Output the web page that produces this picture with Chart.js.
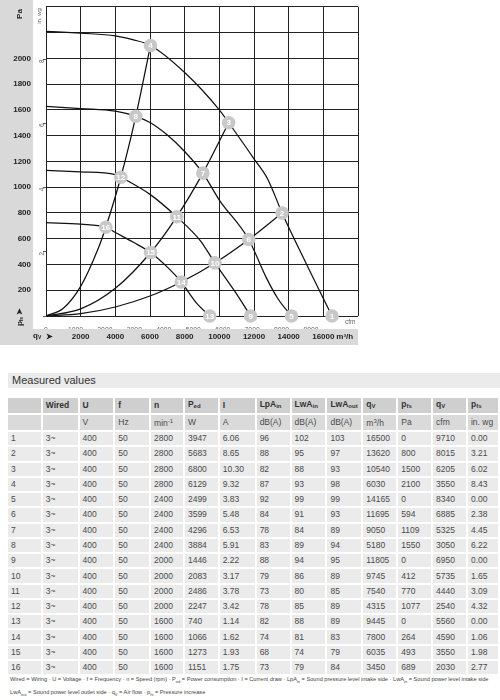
<!DOCTYPE html>
<html>
<head>
<meta charset="utf-8">
<script src="https://cdn.jsdelivr.net/npm/chart.js@4.4.1/dist/chart.umd.min.js"></script>
<style>
  body { margin: 0; background: #fff; font-family: "Liberation Sans", Arial, sans-serif; }
  #wrap { position: relative; width: 500px; height: 700px; overflow: hidden; }
  #fanChart { position: absolute; left: 0; top: 0; }
  #title {
    position: absolute; left: 8px; top: 373px; width: 488px; height: 15px;
    background: #ebebeb; color: #333; font-size: 11px; line-height: 15px; padding-left: 4px;
  }
  #measured {
    position: absolute; left: 6px; top: 396px; table-layout: fixed;
    border-collapse: separate; border-spacing: 2px; font-size: 8.5px; color: #4a4a4a;
  }
  #measured td { height: 13.27px; padding: 0 0 0 3px; background: #ebebeb; white-space: nowrap; line-height: 13px; }
  #measured tr.head td { background: #cfcfcf; font-weight: bold; color: #333; }
  #measured tr.unit td { background: #dadada; }
  #measured sub { font-size: 6px; vertical-align: -1px; }
  #measured sup { font-size: 6px; vertical-align: 3px; }
  #legendText {
    position: absolute; left: 10px; top: 674px; font-size: 5.65px; line-height: 11px; color: #444; white-space: nowrap;
  }
  #legendText sub { font-size: 4px; }
</style>
</head>
<body>
<div id="wrap">
  <canvas id="fanChart" width="500" height="350"></canvas>
  <div id="title">Measured values</div>
  <table id="measured"></table>
  <div id="legendText">Wired = Wiring · U = Voltage · f = Frequency · n = Speed (rpm) · P<sub>ed</sub> = Power consumption · I = Current draw · LpA<sub>in</sub> = Sound pressure level intake side · LwA<sub>in</sub> = Sound power level intake side<br>LwA<sub>out</sub> = Sound power level outlet side · q<sub>V</sub> = Air flow · p<sub>fs</sub> = Pressure increase</div>
</div>
<script>
// operating points 1..16
const pointNo = [1, 2, 3, 4, 5, 6, 7, 8, 9, 10, 11, 12, 13, 14, 15, 16];
const wired = ["3~", "3~", "3~", "3~", "3~", "3~", "3~", "3~", "3~", "3~", "3~", "3~", "3~", "3~", "3~", "3~"];
const voltage = [400, 400, 400, 400, 400, 400, 400, 400, 400, 400, 400, 400, 400, 400, 400, 400];
const freq = [50, 50, 50, 50, 50, 50, 50, 50, 50, 50, 50, 50, 50, 50, 50, 50];
const speed = [2800, 2800, 2800, 2800, 2400, 2400, 2400, 2400, 2000, 2000, 2000, 2000, 1600, 1600, 1600, 1600];
const power = [3947, 5683, 6800, 6129, 2499, 3599, 4296, 3884, 1446, 2083, 2486, 2247, 740, 1066, 1273, 1151];
const current = ["6.06", "8.65", "10.30", "9.32", "3.83", "5.48", "6.53", "5.91", "2.22", "3.17", "3.78", "3.42", "1.14", "1.62", "1.93", "1.75"];
const lpaIn = [96, 88, 82, 87, 92, 84, 78, 83, 88, 79, 73, 78, 82, 74, 68, 73];
const lwaIn = [102, 95, 88, 93, 99, 91, 84, 89, 94, 86, 80, 85, 88, 81, 74, 79];
const lwaOut = [103, 97, 93, 98, 99, 93, 89, 94, 95, 89, 85, 89, 89, 83, 79, 84];
const qvM3h = [16500, 13620, 10540, 6030, 14165, 11695, 9050, 5180, 11805, 9745, 7540, 4315, 9445, 7800, 6035, 3450];
const pfsPa = [0, 800, 1500, 2100, 0, 594, 1109, 1550, 0, 412, 770, 1077, 0, 264, 493, 689];
const qvCfm = [9710, 8015, 6205, 3550, 8340, 6885, 5325, 3050, 6950, 5735, 4440, 2540, 5560, 4590, 3550, 2030];
const pfsInWg = ["0.00", "3.21", "6.02", "8.43", "0.00", "2.38", "4.45", "6.22", "0.00", "1.65", "3.09", "4.32", "0.00", "1.06", "1.98", "2.77"];

// fan curves, [m3/h, Pa]
const curve2800 = [[0, 2210], [2000, 2195], [4000, 2175], [5000, 2145], [6030, 2100], [8000, 1890], [10000, 1600], [10540, 1500], [12000, 1220], [12800, 1060], [13620, 800], [15000, 410], [16500, 0]];
const curve2400 = [[0, 1628], [2000, 1610], [4000, 1590], [5180, 1550], [6000, 1502], [7000, 1405], [8000, 1277], [9050, 1109], [10000, 900], [11695, 594], [12700, 300], [13400, 130], [14165, 0]];
const curve2000 = [[0, 1131], [2000, 1118], [4000, 1098], [4315, 1077], [6000, 944], [7540, 770], [8900, 585], [9745, 412], [11000, 170], [11805, 0]];
const curve1600 = [[0, 725], [2000, 713], [3450, 689], [4000, 648], [5040, 572], [6035, 493], [7000, 379], [7800, 264], [8700, 98], [9445, 0]];
// system lines through the operating points
const sysLine1 = [[0, 0], [1000, 60], [2000, 230], [3000, 520], [3450, 689], [4315, 1077], [5180, 1550], [6030, 2100]];
const sysLine2 = [[0, 0], [2000, 55], [4000, 215], [6035, 493], [7540, 770], [9050, 1109], [10540, 1500]];
const sysLine3 = [[0, 0], [2000, 18], [4000, 70], [6000, 155], [7800, 264], [9745, 412], [11695, 594], [13620, 800]];

// axis ticks
const m3hTicks = [2000, 4000, 6000, 8000, 10000, 12000, 14000, 16000];
const paTicks = [200, 400, 600, 800, 1000, 1200, 1400, 1600, 1800, 2000];
const cfmTicks = [0, 1000, 2000, 3000, 4000, 5000, 6000, 7000, 8000, 9000];
const inWgTicks = [2, 4, 6, 8];

const M3H_PER_CFM = 1.699;
const PA_PER_INWG = 249.09;
const Q_MAX = 18000;
const P_MAX = 2400;
const FONT = '"Liberation Sans", Arial, sans-serif';

const toXY = arr => arr.map(([x, y]) => ({ x, y }));

const lineSet = data => ({
  data: toXY(data),
  showLine: true,
  borderColor: "#111",
  borderWidth: 1.25,
  pointRadius: 0,
  cubicInterpolationMode: "monotone",
});

// keep the plot box fixed: no extra label padding around the chart area
const noPad = s => {
  s.paddingTop = 0;
  s.paddingBottom = 0;
  s.paddingLeft = 0;
  s.paddingRight = 0;
};

const decor = {
  id: "decor",
  beforeDraw(chart) {
    const ctx = chart.ctx;
    ctx.save();
    ctx.fillStyle = "#d9d9d9";
    ctx.fillRect(0, 0, 33, 345);
    ctx.fillRect(0, 329, 358, 16);
    ctx.restore();
  },
  afterDatasetsDraw(chart) {
    const ctx = chart.ctx;
    const meta = chart.getDatasetMeta(0);
    ctx.save();
    ctx.fillStyle = "#fff";
    ctx.font = "bold 8px " + FONT;
    ctx.textAlign = "center";
    ctx.textBaseline = "middle";
    meta.data.forEach((el, i) => {
      ctx.fillText(String(pointNo[i]), el.x, el.y + 0.5);
    });
    ctx.restore();
  },
  afterDraw(chart) {
    const ctx = chart.ctx;
    ctx.save();
    ctx.fillStyle = "#222";
    // Pa
    ctx.save();
    ctx.translate(20, 14);
    ctx.rotate(-Math.PI / 2);
    ctx.font = "bold 8px " + FONT;
    ctx.textAlign = "center";
    ctx.textBaseline = "middle";
    ctx.fillText("Pa", 0, 0);
    ctx.restore();
    // in. wg
    ctx.save();
    ctx.translate(39, 16);
    ctx.rotate(-Math.PI / 2);
    ctx.font = "6px " + FONT;
    ctx.fillStyle = "#666";
    ctx.textAlign = "center";
    ctx.textBaseline = "middle";
    ctx.fillText("in. wg", 0, 0);
    ctx.restore();
    // pfs arrow
    ctx.save();
    ctx.translate(20, 317);
    ctx.rotate(-Math.PI / 2);
    ctx.textBaseline = "middle";
    ctx.font = "bold 8px " + FONT;
    ctx.fillText("p", -9, 0);
    ctx.font = "bold 5px " + FONT;
    ctx.fillText("fs", -4.5, 2);
    ctx.font = "bold 8px " + FONT;
    ctx.fillText("\u27A4", 2, 0);
    ctx.restore();
    // qv arrow
    ctx.textBaseline = "middle";
    ctx.font = "bold 8px " + FONT;
    ctx.fillText("q", 33, 336);
    ctx.font = "bold 5px " + FONT;
    ctx.fillText("V", 38, 338);
    ctx.font = "bold 8px " + FONT;
    ctx.fillText("\u27A4", 46, 337);
    // units
    const xs = chart.scales.x;
    ctx.fillText("m\u00B3/h", xs.getPixelForValue(16000) + 13, 337);
    ctx.font = "6.5px " + FONT;
    ctx.fillStyle = "#666";
    ctx.fillText("cfm", 345, 322);
    ctx.restore();
  },
};

new Chart(document.getElementById("fanChart"), {
  type: "scatter",
  data: {
    datasets: [
      {
        data: qvM3h.map((q, i) => ({ x: q, y: pfsPa[i] })),
        pointRadius: 6.8,
        pointHoverRadius: 6.8,
        backgroundColor: "#c8c8c8",
        borderWidth: 0,
        clip: false,
      },
      lineSet(curve2800),
      lineSet(curve2400),
      lineSet(curve2000),
      lineSet(curve1600),
      lineSet(sysLine1),
      lineSet(sysLine2),
      lineSet(sysLine3),
    ],
  },
  options: {
    responsive: false,
    animation: false,
    events: [],
    layout: { padding: { left: 0, top: 4, right: 142, bottom: 5 } },
    plugins: { legend: { display: false }, tooltip: { enabled: false } },
    scales: {
      x: {
        type: "linear",
        position: "bottom",
        weight: 2,
        min: 0,
        max: Q_MAX,
        ticks: {
          stepSize: 2000,
          autoSkip: false,
          maxRotation: 0,
          padding: 3,
          color: "#222",
          font: { size: 8, weight: "bold", family: FONT },
          callback: v => (m3hTicks.includes(v) ? String(v) : ""),
        },
        grid: { color: "#222", lineWidth: 1, drawTicks: false },
        border: { display: false },
        afterFit(s) { s.height = 16; noPad(s); },
      },
      xc: {
        type: "linear",
        position: "bottom",
        weight: 1,
        bounds: "data",
        afterDataLimits(s) { s.min = 0; s.max = Q_MAX / M3H_PER_CFM; },
        ticks: {
          stepSize: 1000,
          autoSkip: false,
          maxRotation: 0,
          padding: 2,
          color: "#666",
          font: { size: 6.8, family: FONT },
          callback: v => (cfmTicks.includes(v) ? String(v) : ""),
        },
        grid: { display: false },
        border: { display: false },
        afterFit(s) { s.height = 13; noPad(s); },
      },
      y: {
        type: "linear",
        position: "left",
        weight: 2,
        min: 0,
        max: P_MAX,
        ticks: {
          stepSize: 200,
          autoSkip: false,
          padding: 3,
          color: "#222",
          font: { size: 8, weight: "bold", family: FONT },
          callback: v => (paTicks.includes(v) ? String(v) : ""),
        },
        grid: { color: "#222", lineWidth: 1, drawTicks: false },
        border: { display: false },
        afterFit(s) { s.width = 34; noPad(s); },
      },
      yw: {
        type: "linear",
        position: "left",
        weight: 1,
        bounds: "data",
        afterDataLimits(s) { s.min = 0; s.max = P_MAX / PA_PER_INWG; },
        ticks: {
          stepSize: 2,
          autoSkip: false,
          minRotation: 90,
          maxRotation: 90,
          padding: 1,
          color: "#666",
          font: { size: 6.5, family: FONT },
          callback: v => (inWgTicks.includes(v) ? String(v) : ""),
        },
        grid: { drawOnChartArea: false, drawTicks: true, tickLength: 3, color: "#555" },
        border: { display: false },
        afterFit(s) { s.width = 12; noPad(s); },
      },
    },
  },
  plugins: [decor],
});

// measured values table
const headRow = ["", "Wired", "U", "f", "n", "P<sub>ed</sub>", "I", "LpA<sub>in</sub>", "LwA<sub>in</sub>", "LwA<sub>out</sub>", "q<sub>V</sub>", "p<sub>fs</sub>", "q<sub>V</sub>", "p<sub>fs</sub>"];
const unitRow = ["", "", "V", "Hz", "min<sup>-1</sup>", "W", "A", "dB(A)", "dB(A)", "dB(A)", "m<sup>3</sup>/h", "Pa", "cfm", "in. wg"];
const colWidths = [33, 35, 34, 34, 32, 33, 35, 33, 34, 34, 33, 33, 33, 30];

const table = document.getElementById("measured");
let html = "<colgroup>" + colWidths.map(w => `<col style="width:${w}px">`).join("") + "</colgroup>";
html += '<tr class="head">' + headRow.map(h => `<td>${h}</td>`).join("") + "</tr>";
html += '<tr class="unit">' + unitRow.map(h => `<td>${h}</td>`).join("") + "</tr>";
pointNo.forEach((no, i) => {
  const cells = [no, wired[i], voltage[i], freq[i], speed[i], power[i], current[i], lpaIn[i], lwaIn[i], lwaOut[i], qvM3h[i], pfsPa[i], qvCfm[i], pfsInWg[i]];
  html += "<tr>" + cells.map(c => `<td>${c}</td>`).join("") + "</tr>";
});
table.innerHTML = html;
</script>
</body>
</html>
